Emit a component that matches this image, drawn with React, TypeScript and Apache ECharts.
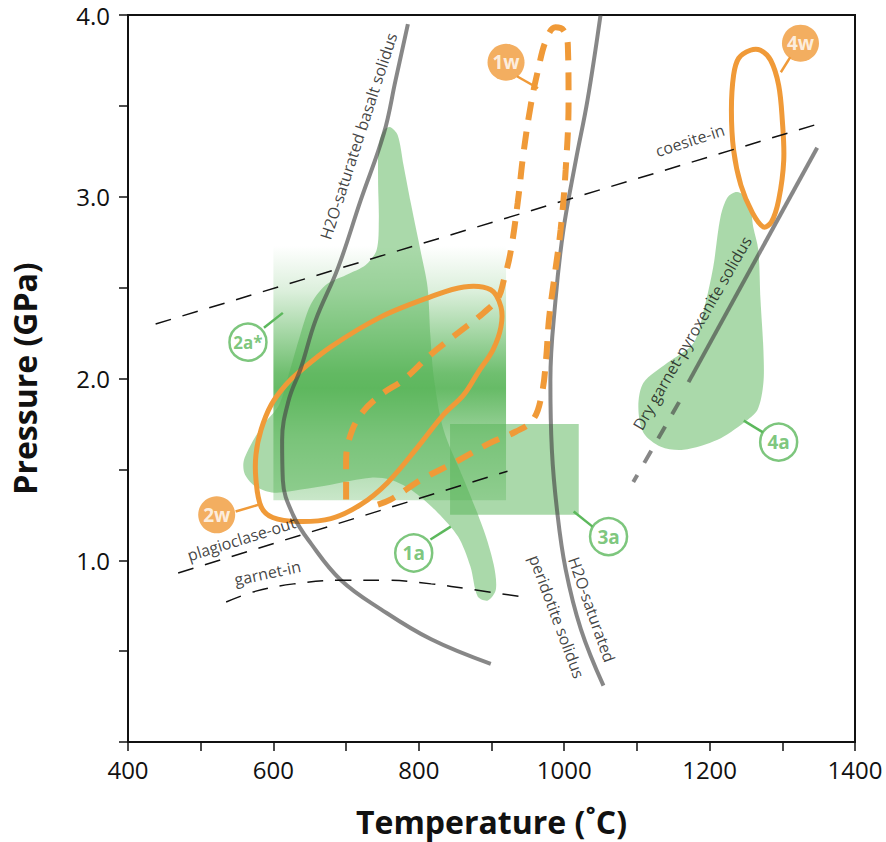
import React, { useEffect, useRef } from "react";
import * as echarts from "echarts";

// ---- data (Temperature °C, Pressure GPa) ----
const xTicks = [400, 600, 800, 1000, 1200, 1400];
const yTicks = [1.0, 2.0, 3.0, 4.0];

const basaltSolidus = [[785, 3.95], [768, 3.64], [752, 3.35], [720, 2.98], [689, 2.61], [658, 2.32], [638, 2.06], [621, 1.88], [612, 1.66], [613, 1.44], [627, 1.25], [652, 1.09], [693, 0.89], [748, 0.73], [817, 0.565], [899, 0.43]];
const peridotiteSolidus = [[1050, 4.0], [1032, 3.53], [1016, 3.2], [999, 2.82], [988, 2.43], [981, 1.99], [983, 1.61], [990, 1.28], [1002, 0.95], [1023, 0.62], [1054, 0.31]];
const pyroxeniteSolidus = [[1348, 3.27], [1171, 1.98]];
const pyroxeniteExtension = [[1158, 1.87], [1095, 1.43]];
const coesiteIn = [[438, 2.3], [1357, 3.41]];
const plagioclaseOut = [[469, 0.93], [922, 1.49]];
const garnetIn = [[535, 0.77], [576, 0.83], [628, 0.87], [693, 0.89], [755, 0.89], [817, 0.87], [872, 0.84], [940, 0.8]];

const loop2w = [[583, 1.295], [576, 1.443], [576, 1.581], [583, 1.718], [597, 1.856], [617, 1.965], [634, 2.031], [679, 2.174], [748, 2.339], [816, 2.449], [862, 2.504], [899, 2.488], [913, 2.394], [913, 2.284], [902, 2.158], [882, 2.037], [862, 1.911], [834, 1.801], [799, 1.625], [757, 1.427], [720, 1.306], [679, 1.229], [634, 1.213], [599, 1.235]];
const loop1w = [[700, 1.334], [700, 1.526], [704, 1.663], [720, 1.801], [748, 1.911], [779, 1.993], [816, 2.13], [854, 2.251], [889, 2.361], [909, 2.443], [917, 2.542], [926, 2.691], [936, 2.966], [944, 3.24], [954, 3.504], [964, 3.696], [975, 3.861], [988, 3.932], [999, 3.916], [1005, 3.834], [1006, 3.531], [1002, 3.147], [995, 2.817], [986, 2.542], [979, 2.323], [975, 2.103], [969, 1.911], [957, 1.773], [933, 1.707], [899, 1.647], [851, 1.542], [803, 1.443], [761, 1.334], [734, 1.295]];
const loop4w = [[1256, 3.806], [1240, 3.762], [1233, 3.669], [1230, 3.477], [1233, 3.257], [1243, 3.064], [1259, 2.911], [1274, 2.834], [1285, 2.861], [1295, 2.982], [1302, 3.202], [1300, 3.421], [1295, 3.614], [1284, 3.751], [1270, 3.806]];

const field1a = [[761, 3.383], [771, 3.339], [779, 3.174], [789, 2.965], [803, 2.691], [812, 2.504], [816, 2.229], [821, 1.993], [834, 1.718], [862, 1.443], [889, 1.169], [903, 0.976], [906, 0.839], [895, 0.779], [881, 0.801], [871, 0.965], [854, 1.13], [826, 1.262], [789, 1.389], [761, 1.443], [734, 1.454], [679, 1.416], [638, 1.389], [601, 1.372], [576, 1.405], [561, 1.471], [559, 1.542], [569, 1.636], [586, 1.746], [608, 1.856], [621, 2.02], [635, 2.213], [651, 2.405], [672, 2.515], [700, 2.57], [727, 2.625], [742, 2.707], [745, 2.872], [744, 3.092], [745, 3.284], [752, 3.366]];
const field4a = [[1238, 3.026], [1254, 2.982], [1260, 2.834], [1267, 2.707], [1270, 2.433], [1274, 2.158], [1274, 1.976], [1266, 1.828], [1247, 1.757], [1211, 1.663], [1164, 1.608], [1133, 1.625], [1109, 1.702], [1102, 1.845], [1109, 1.976], [1142, 2.086], [1178, 2.196], [1192, 2.377], [1205, 2.614], [1215, 2.888], [1225, 2.998]];
const rect2aT = [600, 920];
const rect2aP = [1.33, 2.73];
const rect3aT = [843, 1020];
const rect3aP = [1.25, 1.75];

const labelNames = ["2w", "1w", "4w", "2a*", "1a", "3a", "4a"];
const labelPositions = [[522, 1.25], [920, 3.74], [1325, 3.845], [565, 2.2], [793, 1.04], [1061, 1.13], [1295, 1.65]];
const connectors = [
  [[548, 1.268], [580, 1.306]],
  [[935, 3.663], [964, 3.597]],
  [[1298, 3.685], [1311, 3.768]],
  [[587, 2.279], [613, 2.361]],
  [[816, 1.114], [844, 1.185]],
  [[1013, 1.268], [1039, 1.185]],
  [[1247, 1.768], [1274, 1.702]],
];

const annotationTexts = ["H2O-saturated basalt solidus", "coesite-in", "plagioclase-out", "garnet-in", "H2O-saturated", "peridotite solidus", "Dry garnet-pyroxenite solidus"];
const annotationPositions = [[717, 3.334], [1173, 3.31], [556, 1.118], [592, 0.93], [1038, 0.729], [990, 0.69], [1176, 2.25]];
const annotationAngles = [72, 18, 17.5, 12, -70.5, -69.5, 60];

const ORANGE = "#F09A38";
const GREEN = "#5CB85C";
const FIELD_FILL = "rgba(85,180,85,0.5)";
const GRAY = "rgba(70,70,70,0.65)";
const FONT = "'Open Sans', 'Noto Sans', sans-serif";

function polygonSeries(points: number[][], style: any, smooth: number): any {
  return {
    type: "custom",
    data: [points[0]],
    silent: true,
    z: 2,
    renderItem: (params: any, api: any) => {
      if (params.dataIndex !== 0) return null;
      const pts = points.map((p) => api.coord(p));
      return { type: "polygon", shape: { points: pts, smooth }, style };
    },
  };
}

function rectSeries(tr: number[], pr: number[], fill: any): any {
  return {
    type: "custom",
    data: [[tr[0], pr[0]]],
    silent: true,
    z: 1,
    renderItem: (params: any, api: any) => {
      const a = api.coord([tr[0], pr[1]]);
      const b = api.coord([tr[1], pr[0]]);
      return { type: "rect", shape: { x: a[0], y: a[1], width: b[0] - a[0], height: b[1] - a[1] }, style: { fill } };
    },
  };
}

function lineSeries(data: number[][], color: string, width: number, type: any, smooth: number | boolean, z = 3): any {
  return {
    type: "line",
    data,
    symbol: "none",
    smooth,
    silent: true,
    z,
    lineStyle: { color, width, type, cap: "butt" },
  };
}

export default function App() {
  const ref = useRef<HTMLDivElement>(null);
  useEffect(() => {
    if (!ref.current) return;
    const chart = echarts.init(ref.current, undefined, { renderer: "svg" });
    const gradient = new echarts.graphic.LinearGradient(0, 0, 0, 1, [
      { offset: 0, color: "rgba(76,175,76,0)" },
      { offset: 0.18, color: "rgba(76,175,76,0.2)" },
      { offset: 0.5, color: "rgba(76,175,76,0.8)" },
      { offset: 0.56, color: "rgba(76,175,76,0.85)" },
      { offset: 0.75, color: "rgba(76,175,76,0.55)" },
      { offset: 1, color: "rgba(76,175,76,0.3)" },
    ]);
    const series: any[] = [
      rectSeries(rect2aT, rect2aP, gradient),
      polygonSeries(field1a, { fill: FIELD_FILL }, 0.3),
      rectSeries(rect3aT, rect3aP, FIELD_FILL),
      polygonSeries(field4a, { fill: FIELD_FILL }, 0.3),
      lineSeries(basaltSolidus, GRAY, 4, "solid", 0.4),
      lineSeries(peridotiteSolidus, GRAY, 4, "solid", 0.4),
      lineSeries(pyroxeniteSolidus, GRAY, 4, "solid", false),
      lineSeries(pyroxeniteExtension, GRAY, 4, [14, 14], false),
      lineSeries(coesiteIn, "#111", 1.5, [16, 12], false),
      lineSeries(plagioclaseOut, "#111", 1.5, [16, 12], false),
      lineSeries(garnetIn, "#111", 1.5, [16, 12], 0.4),
      lineSeries(loop1w, ORANGE, 6, [18, 12], 0.4, 4),
      polygonSeries(loop2w, { fill: "none", stroke: ORANGE, lineWidth: 5 }, 0.35),
      polygonSeries(loop4w, { fill: "none", stroke: ORANGE, lineWidth: 5 }, 0.35),
    ];
    connectors.forEach((c, i) => {
      series.push(lineSeries(c, labelNames[i].includes("w") ? ORANGE : GREEN, 2.5, "solid", false, 5));
    });
    series.push({
      type: "scatter",
      silent: true,
      z: 6,
      symbolSize: 37,
      data: labelNames.map((n, i) => {
        const w = n.includes("w");
        return {
          name: n,
          value: labelPositions[i],
          itemStyle: w ? { color: ORANGE } : { color: "#fff", borderColor: GREEN, borderWidth: 2.5 },
          label: {
            show: true,
            position: "inside",
            formatter: "{b}",
            color: w ? "#fff" : GREEN,
            fontWeight: "bold",
            fontSize: n === "2a*" ? 17 : 19,
            fontFamily: FONT,
          },
        };
      }),
    });
    series.push({
      type: "scatter",
      silent: true,
      z: 7,
      symbolSize: 1,
      itemStyle: { color: "rgba(0,0,0,0)" },
      data: annotationTexts.map((t, i) => ({
        name: t,
        value: annotationPositions[i],
        label: {
          show: true,
          position: "inside",
          formatter: "{b}",
          rotate: annotationAngles[i],
          color: "#111",
          fontSize: 16,
          fontFamily: FONT,
        },
      })),
    });

    chart.setOption({
      animation: false,
      backgroundColor: "#fff",
      grid: { left: 127, right: 31, top: 15, bottom: 99, show: true, borderColor: "#111", borderWidth: 2, backgroundColor: "transparent" },
      xAxis: {
        type: "value",
        min: 400,
        max: 1400,
        interval: 100,
        name: "Temperature (˚C)",
        nameLocation: "middle",
        nameGap: 63,
        nameTextStyle: { fontSize: 32, fontWeight: "bold", color: "#111", fontFamily: FONT },
        axisLine: { show: true, lineStyle: { color: "#111", width: 2 } },
        axisTick: { show: true, length: 9, lineStyle: { color: "#111", width: 1.5 } },
        axisLabel: {
          fontSize: 24,
          color: "#111",
          margin: 15,
          fontFamily: FONT,
          formatter: (v: number) => (xTicks.includes(v) ? String(v) : ""),
        },
        splitLine: { show: false },
      },
      yAxis: {
        type: "value",
        min: 0,
        max: 4,
        interval: 0.5,
        name: "Pressure (GPa)",
        nameLocation: "middle",
        nameGap: 88,
        nameTextStyle: { fontSize: 32, fontWeight: "bold", color: "#111", fontFamily: FONT },
        axisLine: { show: true, lineStyle: { color: "#111", width: 2 } },
        axisTick: { show: true, length: 9, lineStyle: { color: "#111", width: 1.5 } },
        axisLabel: {
          fontSize: 24,
          color: "#111",
          margin: 18,
          fontFamily: FONT,
          formatter: (v: number) => (yTicks.some((t) => Math.abs(t - v) < 1e-9) ? v.toFixed(1) : ""),
        },
        splitLine: { show: false },
      },
      series,
    });
    return () => chart.dispose();
  }, []);
  return <div ref={ref} style={{ position: "fixed", left: 0, top: 0, width: 886, height: 842 }} />;
}
